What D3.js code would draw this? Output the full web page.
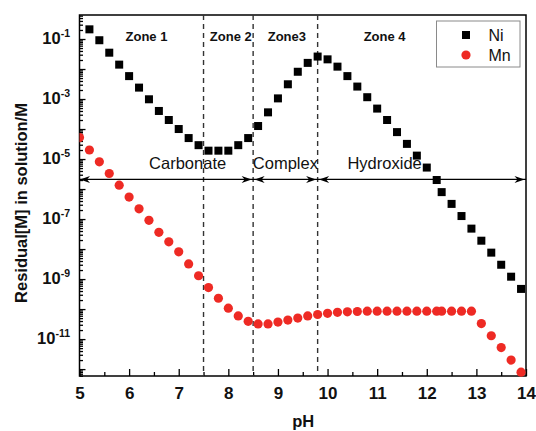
<!DOCTYPE html>
<html>
<head>
<meta charset="utf-8">
<script src="https://cdnjs.cloudflare.com/ajax/libs/d3/7.8.5/d3.min.js"></script>
<style>
  html, body { margin: 0; padding: 0; background: #fff; }
  svg { display: block; font-family: "Liberation Sans", Arial, sans-serif; }
</style>
</head>
<body>
<svg id="chart" width="536" height="431"></svg>
<script>
// Ni residual concentration vs pH
var niPH = [5.2, 5.4, 5.6, 5.8, 6.0, 6.2, 6.4, 6.6, 6.8, 7.0, 7.2, 7.4, 7.6, 7.8, 8.0, 8.2, 8.4,
            8.6, 8.8, 9.0, 9.2, 9.4, 9.6, 9.8, 10.0, 10.2, 10.4, 10.6, 10.8, 11.0, 11.2, 11.4,
            11.6, 11.8, 12.0, 12.2, 12.3, 12.5, 12.7, 12.9, 13.1, 13.3, 13.5, 13.7, 13.9];
var niConc = [2.1e-1, 9.1e-2, 3.5e-2, 1.4e-2, 5.8e-3, 2.4e-3, 9.8e-4, 4.0e-4, 2.0e-4, 1.0e-4,
              5.0e-5, 2.9e-5, 1.9e-5, 1.9e-5, 1.9e-5, 2.9e-5, 5.0e-5, 1.26e-4, 3.6e-4, 1.05e-3,
              3.1e-3, 8.1e-3, 1.6e-2, 2.6e-2, 2.1e-2, 1.2e-2, 5.8e-3, 2.6e-3, 1.15e-3, 4.8e-4,
              2.0e-4, 7.9e-5, 3.2e-5, 1.3e-5, 5.2e-6, 2.0e-6, 7.9e-7, 3.2e-7, 1.26e-7, 4.8e-8,
              1.9e-8, 7.6e-9, 3.0e-9, 1.2e-9, 4.7e-10];

// Mn residual concentration vs pH
var mnPH = [5.0, 5.2, 5.4, 5.6, 5.8, 6.0, 6.2, 6.4, 6.6, 6.8, 7.0, 7.2, 7.4, 7.6, 7.8, 8.0, 8.2,
            8.4, 8.6, 8.8, 9.0, 9.2, 9.4, 9.6, 9.8, 10.0, 10.2, 10.4, 10.6, 10.8, 11.0, 11.2,
            11.4, 11.6, 11.8, 12.0, 12.2, 12.3, 12.5, 12.7, 12.9, 13.1, 13.3, 13.5, 13.7, 13.9];
var mnConc = [5.2e-5, 2.0e-5, 8.1e-6, 3.3e-6, 1.35e-6, 5.4e-7, 2.2e-7, 9.1e-8, 3.6e-8, 1.74e-8,
              8.1e-9, 3.2e-9, 1.29e-9, 5.2e-10, 2.3e-10, 1.07e-10, 5.9e-11, 3.9e-11, 3.2e-11,
              3.2e-11, 3.7e-11, 4.3e-11, 5.0e-11, 5.9e-11, 6.6e-11, 7.2e-11, 7.8e-11, 8.1e-11,
              8.3e-11, 8.5e-11, 8.5e-11, 8.5e-11, 8.5e-11, 8.5e-11, 8.5e-11, 8.5e-11, 8.5e-11,
              8.5e-11, 8.5e-11, 8.5e-11, 8.5e-11, 3.3e-11, 1.29e-11, 5.2e-12, 2.0e-12, 7.9e-13];

var xTicks = [5, 6, 7, 8, 9, 10, 11, 12, 13, 14];
var xMinorTicks = [5.5, 6.5, 7.5, 8.5, 9.5, 10.5, 11.5, 12.5, 13.5];
var yLabelExps = [-11, -9, -7, -5, -3, -1];

// zone boundaries and annotations (pH units)
var zoneBounds = [7.5, 8.5, 9.8];
var zoneNames = ["Zone 1", "Zone 2", "Zone3", "Zone 4"];
var zoneNamePH = [6.35, 8.05, 9.18, 11.15];
var regionNames = ["Carbonate", "Complex", "Hydroxide"];
var regionNamePH = [7.18, 9.15, 11.15];
var regionStops = [5, 8.5, 9.8, 14];
var regionLevel = 2.1e-6;

var seriesNames = ["Ni", "Mn"];

var plotLeft = 79.5, plotRight = 526, plotTop = 15, plotBottom = 376;
var red = "#ee2a24";

var svg = d3.select("#chart");

var x = d3.scaleLinear().domain([5, 14]).range([plotLeft, plotRight]);
var y = d3.scaleLog().domain([Math.pow(10, -12.23), Math.pow(10, -0.2)]).range([plotBottom, plotTop]);

svg.append("defs").append("clipPath").attr("id", "plotClip")
    .append("rect")
    .attr("x", plotLeft).attr("y", plotTop)
    .attr("width", plotRight - plotLeft).attr("height", plotBottom - plotTop + 6);

/**
 * Style axis group: no domain path, black ticks
 */
var styleAxis = function(g) {
    g.select(".domain").remove();
    g.selectAll(".tick line").attr("stroke", "#000").attr("stroke-width", 1.3);
};

// x axis (ticks inward)
svg.append("g")
    .attr("transform", "translate(0," + plotBottom + ")")
    .call(d3.axisBottom(x).tickValues(xTicks).tickSize(-7).tickPadding(11).tickFormat(d3.format("d")))
    .call(styleAxis)
    .selectAll("text")
        .attr("fill", "#111")
        .style("font-size", "17px")
        .style("font-weight", "bold");

svg.append("g")
    .attr("transform", "translate(0," + plotBottom + ")")
    .call(d3.axisBottom(x).tickValues(xMinorTicks).tickSize(-4).tickFormat(""))
    .call(styleAxis);

// y axis: majors at every decade, minors 2..9
var decades = [];
var minors = [];
for (var e = -13; e <= 0; e++) {
    var v = Math.pow(10, e);
    if (v >= y.domain()[0] && v <= y.domain()[1]) decades.push(v);
    for (var k = 2; k <= 9; k++) {
        var m = k * Math.pow(10, e);
        if (m >= y.domain()[0] && m <= y.domain()[1]) minors.push(m);
    }
}

var yAxisG = svg.append("g")
    .attr("transform", "translate(" + plotLeft + ",0)")
    .call(d3.axisLeft(y).tickValues(decades).tickSize(-6).tickPadding(9.5).tickFormat(""))
    .call(styleAxis);

yAxisG.selectAll(".tick text").each(function(d) {
    var exp = Math.round(Math.log10(d));
    if (yLabelExps.indexOf(exp) < 0) return;
    var t = d3.select(this)
        .attr("dy", "0.47em")
        .attr("fill", "#111")
        .style("font-weight", "bold");
    t.append("tspan").style("font-size", "16.5px").text("10");
    t.append("tspan").attr("dy", -7).style("font-size", "10.5px").text(exp < 0 ? "-" + (-exp) : exp);
});

svg.append("g")
    .attr("transform", "translate(" + plotLeft + ",0)")
    .call(d3.axisLeft(y).tickValues(minors).tickSize(-3.5).tickFormat(""))
    .call(styleAxis);

// frame
svg.append("rect")
    .attr("x", plotLeft).attr("y", plotTop)
    .attr("width", plotRight - plotLeft).attr("height", plotBottom - plotTop)
    .attr("fill", "none")
    .attr("stroke", "#000")
    .attr("stroke-width", 1.5);

// axis titles
svg.append("text")
    .attr("x", (plotLeft + plotRight) / 2 + 0.5)
    .attr("y", 427)
    .attr("text-anchor", "middle")
    .attr("fill", "#111")
    .style("font-size", "16.5px")
    .style("font-weight", "bold")
    .text("pH");

svg.append("text")
    .attr("transform", "translate(21," + 203 + ") rotate(-90)")
    .attr("text-anchor", "middle")
    .attr("dy", "0.35em")
    .attr("fill", "#111")
    .style("font-size", "16.5px")
    .style("font-weight", "bold")
    .text("Residual[M] in solution/M");

// zone boundaries
svg.selectAll(".zone-line")
    .data(zoneBounds)
    .enter().append("line")
    .attr("class", "zone-line")
    .attr("x1", function(d) { return x(d); })
    .attr("x2", function(d) { return x(d); })
    .attr("y1", plotTop)
    .attr("y2", plotBottom)
    .attr("stroke", "#333")
    .attr("stroke-width", 1.4)
    .attr("stroke-dasharray", "5,4");

svg.selectAll(".zone-name")
    .data(zoneNames)
    .enter().append("text")
    .attr("class", "zone-name")
    .attr("x", function(d, i) { return x(zoneNamePH[i]); })
    .attr("y", plotTop + 26)
    .attr("text-anchor", "middle")
    .attr("fill", "#111")
    .style("font-size", "13px")
    .style("font-weight", "bold")
    .text(function(d) { return d; });

// region arrow line
var ay = y(regionLevel);
svg.append("line")
    .attr("x1", x(5)).attr("x2", x(14))
    .attr("y1", ay).attr("y2", ay)
    .attr("stroke", "#000")
    .attr("stroke-width", 1.2);

var arrowHead = function(tipX, dir) {
    // dir = +1 points right, -1 points left
    return "M" + tipX + "," + ay +
        "L" + (tipX - dir * 10) + "," + (ay - 3.5) +
        "L" + (tipX - dir * 7) + "," + ay +
        "L" + (tipX - dir * 10) + "," + (ay + 3.5) + "Z";
};

var heads = [];
for (var i = 0; i < regionStops.length - 1; i++) {
    heads.push({tip: x(regionStops[i]) + (i === 0 ? 0.5 : 1.5), dir: -1});
    heads.push({tip: x(regionStops[i + 1]) - 1.5, dir: 1});
}
svg.selectAll(".arrow-head")
    .data(heads)
    .enter().append("path")
    .attr("class", "arrow-head")
    .attr("d", function(d) { return arrowHead(d.tip, d.dir); })
    .attr("fill", "#000");

svg.selectAll(".region-name")
    .data(regionNames)
    .enter().append("text")
    .attr("class", "region-name")
    .attr("x", function(d, i) { return x(regionNamePH[i]); })
    .attr("y", ay - 10)
    .attr("text-anchor", "middle")
    .attr("fill", "#111")
    .style("font-size", "16.5px")
    .text(function(d) { return d; });

// data markers
var marks = svg.append("g").attr("clip-path", "url(#plotClip)");

marks.selectAll(".ni")
    .data(niPH)
    .enter().append("rect")
    .attr("class", "ni")
    .attr("x", function(d) { return x(d) - 4; })
    .attr("y", function(d, i) { return y(niConc[i]) - 4; })
    .attr("width", 8)
    .attr("height", 8)
    .attr("fill", "#000");

marks.selectAll(".mn")
    .data(mnPH)
    .enter().append("circle")
    .attr("class", "mn")
    .attr("cx", function(d) { return x(d); })
    .attr("cy", function(d, i) { return y(mnConc[i]); })
    .attr("r", 4.6)
    .attr("fill", red);

// legend
var lg = svg.append("g").attr("transform", "translate(436.5,21)");
lg.append("rect")
    .attr("width", 83.5).attr("height", 46)
    .attr("fill", "#fff")
    .attr("stroke", "#8a8a8a")
    .attr("stroke-width", 1);

lg.append("rect").attr("x", 25.5).attr("y", 10).attr("width", 8).attr("height", 8).attr("fill", "#000");
lg.append("circle").attr("cx", 29.5).attr("cy", 34).attr("r", 4.6).attr("fill", red);

lg.selectAll(".legend-label")
    .data(seriesNames)
    .enter().append("text")
    .attr("class", "legend-label")
    .attr("x", 52)
    .attr("y", function(d, i) { return 20 + i * 20; })
    .attr("fill", "#111")
    .style("font-size", "16px")
    .text(function(d) { return d; });
</script>
</body>
</html>
